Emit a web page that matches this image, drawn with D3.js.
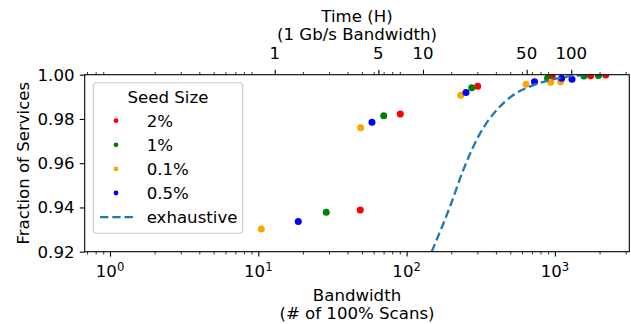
<!DOCTYPE html>
<html>
<head>
<meta charset="utf-8">
<script src="https://cdn.jsdelivr.net/npm/d3@7"></script>
<style>
  body { margin: 0; background: #fff; }
  svg text { font-family: "DejaVu Sans", sans-serif; fill: #000; }
</style>
</head>
<body>
<svg id="chart" width="631" height="324"></svg>
<script>
// Fraction of services found vs. scan bandwidth, per seed size

// seed sizes, in legend order
let seedSizes = ["2%", "1%", "0.1%", "0.5%"];

// bandwidth (# of 100% scans) and fraction of services for each seed size
let bw2    = [48.7, 90.7, 301.6, 960, 1743, 2201];
let frac2  = [0.9389, 0.9822, 0.9948, 0.9990, 0.99955, 0.99986];
let bw1    = [28.7, 70.1, 274.8, 891.7, 1571, 1968];
let frac1  = [0.9378, 0.9815, 0.9941, 0.9984, 0.9994, 0.9996];
let bw01   = [10.48, 49.0, 231.6, 638.5, 937, 1094];
let frac01 = [0.9303, 0.9760, 0.9907, 0.9957, 0.9966, 0.9968];
let bw05   = [18.6, 58.4, 251.5, 728.8, 1111, 1304];
let frac05 = [0.9336, 0.9785, 0.9920, 0.9968, 0.9984, 0.9979];

// exhaustive scanning curve
let exhBw   = [147.6, 196, 241, 313, 405, 524, 679, 881, 1139, 1600];
let exhFrac = [0.920, 0.9403, 0.9569, 0.9735, 0.9840, 0.9908, 0.9946, 0.9972, 0.9988, 1.000];

// axis ticks
let yTicks = [0.92, 0.94, 0.96, 0.98, 1.00];
let xMajor = [1, 10, 100, 1000];
let hourTicks = [1, 5, 10, 50, 100];
let scansPerHour = 12.9;   // 100% scans per hour at 1 Gb/s

let series = [
  {name: seedSizes[0], bw: bw2,  frac: frac2,  color: "red"},
  {name: seedSizes[1], bw: bw1,  frac: frac1,  color: "green"},
  {name: seedSizes[2], bw: bw01, frac: frac01, color: "orange"},
  {name: seedSizes[3], bw: bw05, frac: frac05, color: "blue"}
];

let fontSize = 16.6;
let plot = {left: 84.7, right: 629.3, top: 74.7, bottom: 251.7};

let svg = d3.select("#chart");

let x = d3.scaleLog().domain([0.675, 3175]).range([plot.left, plot.right]);
let y = d3.scaleLinear().domain([0.92, 1.00]).range([plot.bottom, plot.top]);

// minor tick values: 2..9 in each decade
let xMinor = [];
for (let e = -1; e <= 3; e++) {
  for (let m = 2; m <= 9; m++) {
    let v = m * Math.pow(10, e);
    if (v >= x.domain()[0] && v <= x.domain()[1]) xMinor.push(v);
  }
}

svg.append("defs").append("clipPath").attr("id", "clip")
  .append("rect")
    .attr("x", plot.left).attr("y", plot.top)
    .attr("width", plot.right - plot.left)
    .attr("height", plot.bottom - plot.top);

// scatter points
let pts = svg.append("g").attr("clip-path", "url(#clip)");
series.forEach(s => {
  pts.selectAll(null)
    .data(s.bw.map((b, i) => [b, s.frac[i]]))
    .enter()
    .append("circle")
      .attr("cx", d => x(d[0]))
      .attr("cy", d => y(d[1]))
      .attr("r", 3.5)
      .attr("fill", s.color);
});

// exhaustive curve (drawn over points like matplotlib)
let line = d3.line()
  .x(d => x(d[0]))
  .y(d => y(d[1]))
  .curve(d3.curveMonotoneX);

svg.append("path")
  .datum(exhBw.map((b, i) => [b, exhFrac[i]]))
  .attr("clip-path", "url(#clip)")
  .attr("d", line)
  .attr("fill", "none")
  .attr("stroke", "#1f77b4")
  .attr("stroke-width", 2.3)
  .attr("stroke-dasharray", "8.3,4");

// axes
function styleAxis(g, width) {
  g.select(".domain").remove();
  g.selectAll(".tick line").attr("stroke", "#000").attr("stroke-width", width);
  g.selectAll(".tick text").remove();
}

// bottom
svg.append("g")
  .attr("transform", `translate(0,${plot.bottom})`)
  .call(d3.axisBottom(x).tickValues(xMinor).tickSize(2.8))
  .call(g => styleAxis(g, 0.8));

svg.append("g")
  .attr("transform", `translate(0,${plot.bottom})`)
  .call(d3.axisBottom(x).tickValues(xMajor).tickSize(4.9))
  .call(g => styleAxis(g, 1.1));

xMajor.forEach(v => {
  let t = svg.append("text")
    .attr("x", x(v))
    .attr("y", 277)
    .attr("text-anchor", "middle")
    .style("font-size", fontSize + "px");
  t.append("tspan").text("10");
  t.append("tspan")
    .attr("dy", -6)
    .style("font-size", "11.6px")
    .text(Math.round(Math.log10(v)));
});

// top (time in hours at 1 Gb/s)
svg.append("g")
  .attr("transform", `translate(0,${plot.top})`)
  .call(d3.axisTop(x).tickValues(xMinor).tickSize(2.8))
  .call(g => styleAxis(g, 0.8));

svg.append("g")
  .attr("transform", `translate(0,${plot.top})`)
  .call(d3.axisTop(x).tickValues(hourTicks.map(h => h * scansPerHour)).tickSize(4.9))
  .call(g => styleAxis(g, 1.1));

hourTicks.forEach(h => {
  svg.append("text")
    .attr("x", x(h * scansPerHour))
    .attr("y", 58.5)
    .attr("text-anchor", "middle")
    .style("font-size", fontSize + "px")
    .text(h);
});

// left
svg.append("g")
  .attr("transform", `translate(${plot.left},0)`)
  .call(d3.axisLeft(y).tickValues(yTicks).tickSize(4.9))
  .call(g => styleAxis(g, 1.1));

yTicks.forEach(v => {
  svg.append("text")
    .attr("x", 74.5)
    .attr("y", y(v))
    .attr("dy", "0.36em")
    .attr("text-anchor", "end")
    .style("font-size", fontSize + "px")
    .text(d3.format(".2f")(v));
});

// frame
svg.append("rect")
  .attr("x", plot.left).attr("y", plot.top)
  .attr("width", plot.right - plot.left)
  .attr("height", plot.bottom - plot.top)
  .attr("fill", "none")
  .attr("stroke", "#000")
  .attr("stroke-width", 1.1);

// axis titles
let cx = (plot.left + plot.right) / 2;
[["Time (H)", 21.8], ["(1 Gb/s Bandwidth)", 40],
 ["Bandwidth", 301], ["(# of 100% Scans)", 318.5]].forEach(d => {
  svg.append("text")
    .attr("x", cx)
    .attr("y", d[1])
    .attr("text-anchor", "middle")
    .style("font-size", fontSize + "px")
    .text(d[0]);
});

svg.append("text")
  .attr("transform", `translate(28.5,${(plot.top + plot.bottom) / 2}) rotate(-90)`)
  .attr("text-anchor", "middle")
  .style("font-size", fontSize + "px")
  .text("Fraction of Services");

// legend
let legend = svg.append("g");
legend.append("rect")
  .attr("x", 93.3).attr("y", 82.7)
  .attr("width", 149.4).attr("height", 150.6)
  .attr("rx", 3)
  .attr("fill", "#fff").attr("fill-opacity", 0.8)
  .attr("stroke", "#cccccc")
  .attr("stroke-width", 1.1);

legend.append("text")
  .attr("x", 168).attr("y", 103.3)
  .attr("text-anchor", "middle")
  .style("font-size", fontSize + "px")
  .text("Seed Size");

let rowY = i => 120.7 + i * 24.1;
series.forEach((s, i) => {
  legend.append("circle")
    .attr("cx", 116).attr("cy", rowY(i))
    .attr("r", 2.4)
    .attr("fill", s.color);
  legend.append("text")
    .attr("x", 146.7).attr("y", rowY(i) + 6)
    .style("font-size", fontSize + "px")
    .text(s.name);
});

legend.append("line")
  .attr("x1", 100).attr("x2", 133.3)
  .attr("y1", rowY(4)).attr("y2", rowY(4))
  .attr("stroke", "#1f77b4")
  .attr("stroke-width", 2.3)
  .attr("stroke-dasharray", "8.3,4");
legend.append("text")
  .attr("x", 146.7).attr("y", rowY(4) + 6)
  .style("font-size", fontSize + "px")
  .text("exhaustive");
</script>
</body>
</html>
